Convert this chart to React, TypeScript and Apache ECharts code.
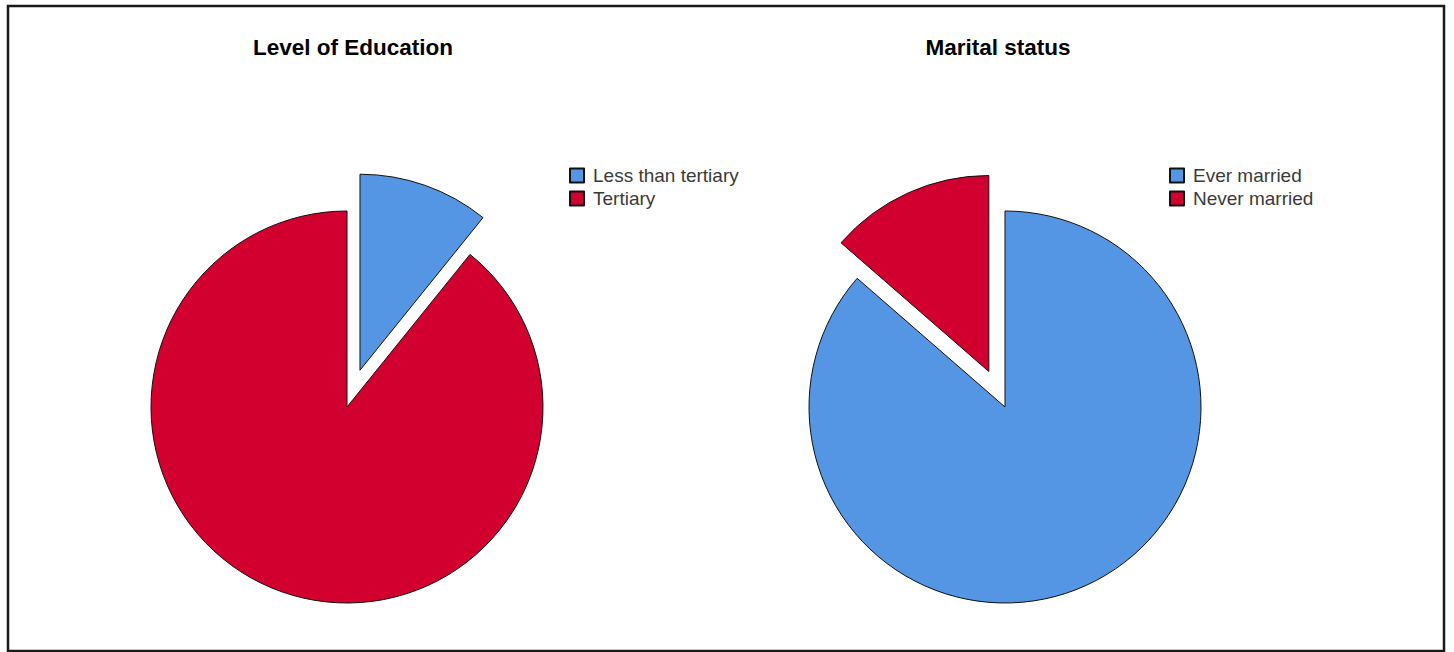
import React, { useEffect, useRef } from "react";
import * as echarts from "echarts";

const eduCategories = ["Less than tertiary", "Tertiary"];
const eduValues = [10.8, 89.2];
const maritalCategories = ["Ever married", "Never married"];
const maritalValues = [86.4, 13.6];
const titles = ["Level of Education", "Marital status"];

const BLUE = "#5495e4";
const RED = "#d2002e";

export default function App() {
  const ref = useRef<HTMLDivElement>(null);
  useEffect(() => {
    if (!ref.current) return;
    const chart = echarts.init(ref.current, null, { renderer: "svg" });
    const legendText = {
      fontFamily: "Liberation Sans, Arial, sans-serif",
      fontSize: 19,
      color: "#3a3a3a",
      lineHeight: 14,
      padding: [0, 0, 0, 4],
    };
    const pieBase = {
      type: "pie",
      radius: 196,
      startAngle: 90,
      clockwise: true,
      selectedMode: "multiple",
      selectedOffset: 39,
      label: { show: false },
      labelLine: { show: false },
      emphasis: { disabled: true },
      itemStyle: { borderColor: "#111", borderWidth: 1 },
      avoidLabelOverlap: false,
    };
    const titleStyle = {
      fontFamily: "Liberation Sans, Arial, sans-serif",
      fontSize: 22.5,
      fontWeight: "bold",
      color: "#000",
    };
    chart.setOption({
      animation: false,
      backgroundColor: "#ffffff",
      title: [
        { text: titles[0], left: 348, top: 31, textAlign: "center", textStyle: titleStyle },
        { text: titles[1], left: 993, top: 31, textAlign: "center", textStyle: titleStyle },
      ],
      legend: [
        {
          data: eduCategories,
          orient: "vertical",
          left: 569,
          top: 166,
          padding: 0,
          itemWidth: 14,
          itemHeight: 14,
          itemGap: 4,
          icon: "rect",
          selectedMode: false,
          textStyle: legendText,
        },
        {
          data: maritalCategories,
          orient: "vertical",
          left: 1169,
          top: 166,
          padding: 0,
          itemWidth: 14,
          itemHeight: 14,
          itemGap: 4,
          icon: "rect",
          selectedMode: false,
          textStyle: legendText,
        },
      ],
      graphic: [
        {
          type: "rect",
          shape: { x: 8, y: 6, width: 1436, height: 645 },
          style: { fill: "none", stroke: "#1a1a1a", lineWidth: 2.5 },
          silent: true,
        },
      ],
      series: [
        {
          ...pieBase,
          name: "Level of Education",
          center: [347, 407],
          data: eduCategories.map((name, i) => ({
            name,
            value: eduValues[i],
            selected: i === 0,
            itemStyle: { color: i === 0 ? BLUE : RED },
          })),
        },
        {
          ...pieBase,
          name: "Marital status",
          center: [1005, 407],
          data: maritalCategories.map((name, i) => ({
            name,
            value: maritalValues[i],
            selected: i === 1,
            itemStyle: { color: i === 0 ? BLUE : RED },
          })),
        },
      ],
    });
    return () => chart.dispose();
  }, []);
  return (
    <div
      ref={ref}
      style={{ position: "fixed", left: 0, top: 0, width: 1454, height: 652 }}
    />
  );
}
